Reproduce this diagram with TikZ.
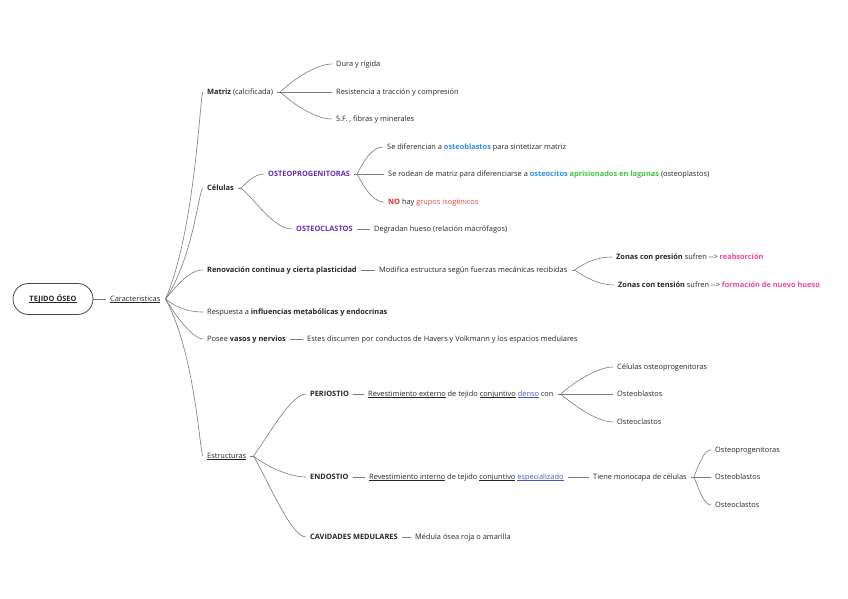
\documentclass[tikz,border=0pt]{standalone}
\usepackage{fontspec}
\setmainfont{Open Sans}
\definecolor{txt}{HTML}{262626}
\definecolor{linec}{HTML}{7C7C7C}
\definecolor{boxc}{HTML}{4A4A4A}
\definecolor{purp}{HTML}{6A2BB3}
\definecolor{blu}{HTML}{2F8FE8}
\definecolor{grn}{HTML}{44C044}
\definecolor{redd}{HTML}{E0262B}
\definecolor{redl}{HTML}{E04848}
\definecolor{pink}{HTML}{F0479E}
\definecolor{lnk}{HTML}{4B55C8}
\newcommand{\fs}{\fontsize{7.4pt}{8.8pt}\selectfont}
\newcommand{\undl}[1]{\setbox0\hbox{#1}\rlap{\vrule height -0.9pt depth 1.4pt width \wd0}\box0\relax}
\begin{document}
\frenchspacing
\begin{tikzpicture}[x=1pt,y=-1pt,
  ln/.style={draw=linec,line width=0.6pt},
  tx/.style={anchor=west,inner xsep=4pt,inner ysep=1pt,text height=4.2pt,text depth=0pt,text=txt,font=\fs},
  pu/.style={tx,text=purp,font=\fs\bfseries}]
\useasboundingbox[fill=white] (0,0) rectangle (848,599);

% root
\node[draw=boxc,line width=0.8pt,rounded corners=15.5pt,minimum width=80pt,minimum height=31pt,text height=4.2pt,text depth=0pt,text=txt,font=\fs\bfseries] (root) at (53,299) {\undl{TEJIDO ÓSEO}};
\node[tx] (car) at (106,299) {\undl{Caracteristicas}};
\draw[ln] (root.east) -- (car.west);
\coordinate (carH) at ([xshift=1pt]car.east);

% level 1
\node[tx] (mat) at (203,92) {\textbf{Matriz} (calcificada)};
\node[tx] (cel) at (203,188) {\textbf{Células}};
\node[tx] (ren) at (203,270) {\textbf{Renovación continua y cierta plasticidad}};
\node[tx] (res) at (203,312) {Respuesta a \textbf{influencias metabólicas y endocrinas}};
\node[tx] (pos) at (203,339) {Posee \textbf{vasos y nervios}};
\node[tx] (est) at (203,456) {\undl{Estructuras}};

\draw[ln] (carH) .. controls +(30,-69) and ([xshift=-3pt]mat.west) .. (mat.west);
\draw[ln] (carH) .. controls +(28,-42) and ([xshift=-4pt]cel.west) .. (cel.west);
\draw[ln] (carH) .. controls +(20,-25) and ([xshift=-8pt]ren.west) .. (ren.west);
\draw[ln] (carH) .. controls +(15,12) and ([xshift=-8pt]res.west) .. (res.west);
\draw[ln] (carH) .. controls +(18,30) and ([xshift=-6pt]pos.west) .. (pos.west);
\draw[ln] (carH) .. controls +(30,55) and ([xshift=-3pt]est.west) .. (est.west);

% Matriz
\coordinate (matH) at ([xshift=3pt]mat.east);
\node[tx] (dura) at (332,64) {Dura y rígida};
\node[tx] (resi) at (332,92) {Resistencia a tracción y compresión};
\node[tx] (sf) at (332,119) {S.F. , fibras y minerales};
\draw[ln] (mat.east) -- (matH);
\draw[ln] (matH) .. controls +(15,-14) and ([xshift=-15pt]dura.west) .. (dura.west);
\draw[ln] (matH) -- (resi.west);
\draw[ln] (matH) .. controls +(15,14) and ([xshift=-15pt]sf.west) .. (sf.west);

% Celulas
\coordinate (celH) at ([xshift=3pt]cel.east);
\node[pu] (op) at (264,174) {OSTEOPROGENITORAS};
\node[pu] (oc) at (292,229) {OSTEOCLASTOS};
\draw[ln] (cel.east) -- (celH);
\draw[ln] (celH) .. controls +(8,-8) and ([xshift=-8pt]op.west) .. (op.west);
\draw[ln] (celH) .. controls +(15,13) and ([xshift=-18pt]oc.west) .. (oc.west);

\coordinate (opH) at ([xshift=3pt]op.east);
\node[tx] (dif) at (383,147) {Se diferencian a \textcolor{blu}{\textbf{osteoblastos}} para sintetizar matriz};
\node[tx] (rod) at (384,174) {Se rodean de matriz para diferenciarse a \textcolor{blu}{\textbf{osteocitos}} \textcolor{grn}{\textbf{aprisionados en lagunas}} (osteoplastos)};
\node[tx] (no) at (384,202) {\textcolor{redd}{\textbf{NO}} hay \textcolor{redl}{grupos isogénicos}};
\draw[ln] (op.east) -- (opH);
\draw[ln] (opH) .. controls +(10,-20) and ([xshift=-8pt]dif.west) .. (dif.west);
\draw[ln] (opH) -- (rod.west);
\draw[ln] (opH) .. controls +(10,20) and ([xshift=-8pt]no.west) .. (no.west);

\node[tx] (deg) at (370,229) {Degradan hueso (relación macrófagos)};
\draw[ln] (oc.east) -- (deg.west);

% Renovacion
\node[tx] (mod) at (375,270) {Modifica estructura según fuerzas mecánicas recibidas};
\draw[ln] (ren.east) -- (mod.west);
\coordinate (modH) at ([xshift=3pt]mod.east);
\node[tx] (zp) at (612,257) {\textbf{Zonas con presión} sufren -{}-{}> \textcolor{pink}{\textbf{reabsorción}}};
\node[tx] (zt) at (614,285) {\textbf{Zonas con tensión} sufren -{}-{}> \textcolor{pink}{\textbf{formación de nuevo hueso}}};
\draw[ln] (mod.east) -- (modH);
\draw[ln] (modH) .. controls +(12,-8) and ([xshift=-15pt]zp.west) .. (zp.west);
\draw[ln] (modH) .. controls +(12,8) and ([xshift=-15pt]zt.west) .. (zt.west);

% Posee
\node[tx] (hav) at (303,339) {Estes discurren por conductos de Havers y Volkmann y los espacios medulares};
\draw[ln] (pos.east) -- (hav.west);

% Estructuras
\coordinate (estH) at ([xshift=3pt]est.east);
\node[tx] (per) at (306,394) {\textbf{PERIOSTIO}};
\node[tx] (endo) at (306,477) {\textbf{ENDOSTIO}};
\node[tx] (cav) at (306,537) {\textbf{CAVIDADES MEDULARES}};
\draw[ln] (est.east) -- (estH);
\draw[ln] (estH) .. controls +(15,-20) and ([xshift=-15pt]per.west) .. (per.west);
\draw[ln] (estH) .. controls +(15,12) and ([xshift=-15pt]endo.west) .. (endo.west);
\draw[ln] (estH) .. controls +(15,25) and ([xshift=-15pt]cav.west) .. (cav.west);

\node[tx] (rext) at (364,394) {\undl{Revestimiento externo} de tejido \undl{conjuntivo} \textcolor{lnk}{\undl{denso}} con};
\draw[ln] (per.east) -- (rext.west);
\coordinate (rextH) at ([xshift=3pt]rext.east);
\node[tx] (cop) at (613,367) {Células osteoprogenitoras};
\node[tx] (ob1) at (613,394) {Osteoblastos};
\node[tx] (ocl1) at (613,422) {Osteoclastos};
\draw[ln] (rext.east) -- (rextH);
\draw[ln] (rextH) .. controls +(15,-13) and ([xshift=-15pt]cop.west) .. (cop.west);
\draw[ln] (rextH) -- (ob1.west);
\draw[ln] (rextH) .. controls +(15,13) and ([xshift=-15pt]ocl1.west) .. (ocl1.west);

\node[tx] (rint) at (365,477) {\undl{Revestimiento interno} de tejido \undl{conjuntivo} \textcolor{lnk}{\undl{especializado}}};
\draw[ln] (endo.east) -- (rint.west);
\node[tx] (tiene) at (589,477) {Tiene monocapa de células};
\draw[ln] (rint.east) -- (tiene.west);
\coordinate (tieneH) at ([xshift=3pt]tiene.east);
\node[tx] (op2) at (711,450) {Osteoprogenitoras};
\node[tx] (ob2) at (711,477) {Osteoblastos};
\node[tx] (ocl2) at (711,505) {Osteoclastos};
\draw[ln] (tiene.east) -- (tieneH);
\draw[ln] (tieneH) .. controls +(7,-18) and ([xshift=-6pt]op2.west) .. (op2.west);
\draw[ln] (tieneH) -- (ob2.west);
\draw[ln] (tieneH) .. controls +(7,18) and ([xshift=-6pt]ocl2.west) .. (ocl2.west);

\node[tx] (med) at (411,537) {Médula ósea roja o amarilla};
\draw[ln] (cav.east) -- (med.west);
\end{tikzpicture}
\end{document}
